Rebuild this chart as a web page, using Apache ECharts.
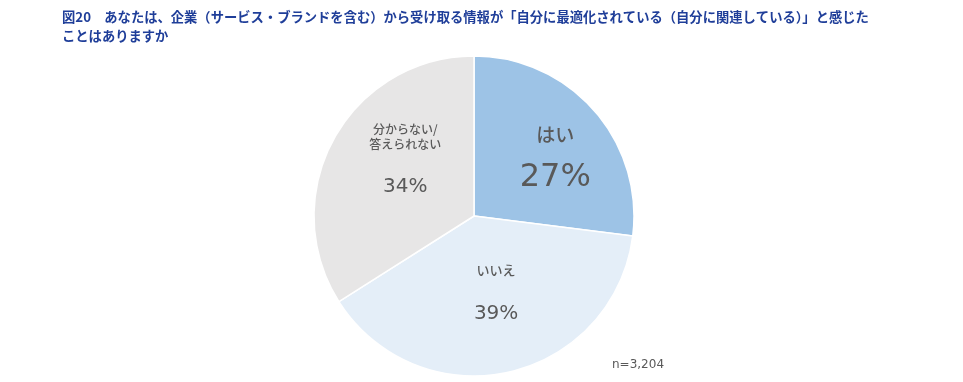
<!DOCTYPE html>
<html><head><meta charset="utf-8">
<script src="https://cdn.jsdelivr.net/npm/echarts@6/dist/echarts.min.js"></script>
<style>html,body{margin:0;padding:0;background:#fff;}#c{width:963px;height:382px;}</style>
</head><body><div id="c"></div>
<script>
const titleText = '図20　あなたは、企業（サービス・ブランドを含む）から受け取る情報が「自分に最適化されている（自分に関連している）」と感じた\nことはありますか';
const categories = ['はい', 'いいえ', '分からない/\n答えられない'];
const values = [27, 39, 34];
const colors = ['#9DC3E6', '#E4EEF8', '#E7E6E6'];
const noteText = 'n=3,204';

const labelStyles = [
  {offset: [19, 1.5], rich: {n: {fontSize: 19, lineHeight: 30}, v: {fontSize: 32, lineHeight: 56}}},
  {offset: [4, 1.5], rich: {n: {fontSize: 13, lineHeight: 30}, v: {fontSize: 20, lineHeight: 56}}},
  {offset: [4, -4], rich: {n: {fontSize: 12, lineHeight: 15}, v: {fontSize: 20, lineHeight: 70}}}
];

const chart = echarts.init(document.getElementById('c'));
chart.setOption({
  animation: false,
  title: {
    text: titleText, left: 62, top: 7, padding: 0,
    textStyle: {fontFamily: 'Noto Sans CJK JP', fontSize: 13.3, fontWeight: 'bold', color: '#1F3E99', lineHeight: 19}
  },
  graphic: [{
    type: 'text', left: 612, top: 359,
    style: {text: noteText, fontFamily: 'DejaVu Sans', fontSize: 12, fill: '#595959'}
  }],
  series: [{
    type: 'pie',
    center: [474, 216],
    radius: 160,
    startAngle: 90,
    clockwise: true,
    itemStyle: {borderColor: '#fff', borderWidth: 1.5},
    label: {
      show: true, position: 'inside', color: '#595959',
      fontFamily: 'Noto Sans CJK JP',
      formatter: p => '{n|' + p.name.split('\n').join('}\n{n|') + '}\n{v|' + p.value + '%}'
    },
    labelLine: {show: false},
    emphasis: {disabled: true},
    data: categories.map((c, i) => ({
      name: c, value: values[i],
      itemStyle: {color: colors[i]},
      label: {
        offset: labelStyles[i].offset,
        rich: {
          n: Object.assign({color: '#595959', fontFamily: 'Noto Sans CJK JP', fontWeight: 500}, labelStyles[i].rich.n),
          v: Object.assign({color: '#595959', fontFamily: 'DejaVu Sans'}, labelStyles[i].rich.v)
        }
      }
    }))
  }]
});
</script></body></html>
